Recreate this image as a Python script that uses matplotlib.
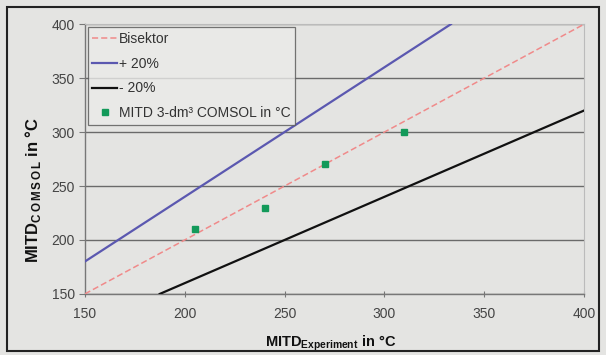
import matplotlib.pyplot as plt
from matplotlib.patches import Rectangle

plt.rcParams['font.family'] = ['Liberation Sans', 'DejaVu Sans']

# Messpunkte
mitd_experiment = [205, 240, 270, 310]
mitd_comsol = [210, 230, 270, 300]

# Linien (Bisektor, +20 %, -20 %)
bisektor_x = [150, 400]
bisektor_y = [150, 400]
plus20_x = [150, 333.3]
plus20_y = [180, 400]
minus20_x = [187.5, 400]
minus20_y = [150, 320]

xticks = [150, 200, 250, 300, 350, 400]
yticks = [150, 200, 250, 300, 350, 400]

fig = plt.figure(figsize=(6.06, 3.55), dpi=100)
fig.patch.set_facecolor('#e4e4e2')
# Rahmen um die Abbildung
fig.patches.append(Rectangle((0.012, 0.012), 0.976, 0.968, transform=fig.transFigure,
                             fill=False, edgecolor='#222222', linewidth=1.5))

ax = fig.add_axes([0.140, 0.172, 0.824, 0.760])
ax.set_facecolor('#e4e4e2')

ax.plot(bisektor_x, bisektor_y, color='#f08a8a', linestyle=(0, (4, 2)), linewidth=1.1,
        label='Bisektor', zorder=3)
ax.plot(plus20_x, plus20_y, color='#5b58b0', linewidth=1.6, label='+ 20%', zorder=3)
ax.plot(minus20_x, minus20_y, color='#111111', linewidth=1.6, label='- 20%', zorder=3)
ax.plot(mitd_experiment, mitd_comsol, linestyle='none', marker='s', markersize=4,
        color='#139a5a', label='MITD 3-dm³ COMSOL in °C', zorder=4)

ax.set_xlim(150, 400)
ax.set_ylim(150, 400)
ax.set_xticks(xticks)
ax.set_yticks(yticks)
ax.yaxis.grid(True, color='#6a6a6a', linewidth=1.0)
ax.set_axisbelow(True)

for side in ['top', 'right']:
    ax.spines[side].set_color('#bbbbbb')
    ax.spines[side].set_linewidth(0.8)
for side in ['left', 'bottom']:
    ax.spines[side].set_color('#777777')
    ax.spines[side].set_linewidth(1.0)

ax.tick_params(axis='x', direction='inout', length=5, color='#777777',
               labelsize=10, labelcolor='#444444', pad=7)
ax.tick_params(axis='y', direction='out', length=4, color='#777777',
               labelsize=10, labelcolor='#444444', pad=3)

fig.text(331 / 606, 1 - 343 / 355, 'MITD$_{\\mathregular{Experiment}}$ in °C',
         fontsize=10.5, fontweight='bold', ha='center', va='center', color='#111111')
fig.text(33 / 606, 1 - 190 / 355,
         'MITD$_{\\mathregular{C\\,O\\,M\\,S\\,O\\,L}}$ in °C',
         fontsize=12, fontweight='bold', ha='center', va='center', rotation=90,
         color='#111111')

leg = ax.legend(loc='upper left', bbox_to_anchor=(0.0, 1.0), fontsize=10,
                frameon=True, fancybox=False, handlelength=1.8, handletextpad=0.1,
                borderpad=0.35, labelspacing=0.78, borderaxespad=0.2)
leg.get_frame().set_edgecolor('#555555')
leg.get_frame().set_facecolor('#ebebe9')
leg.get_frame().set_linewidth(0.9)
for t in leg.get_texts():
    t.set_color('#333333')

fig.savefig('out.png', dpi=100, facecolor=fig.get_facecolor())
